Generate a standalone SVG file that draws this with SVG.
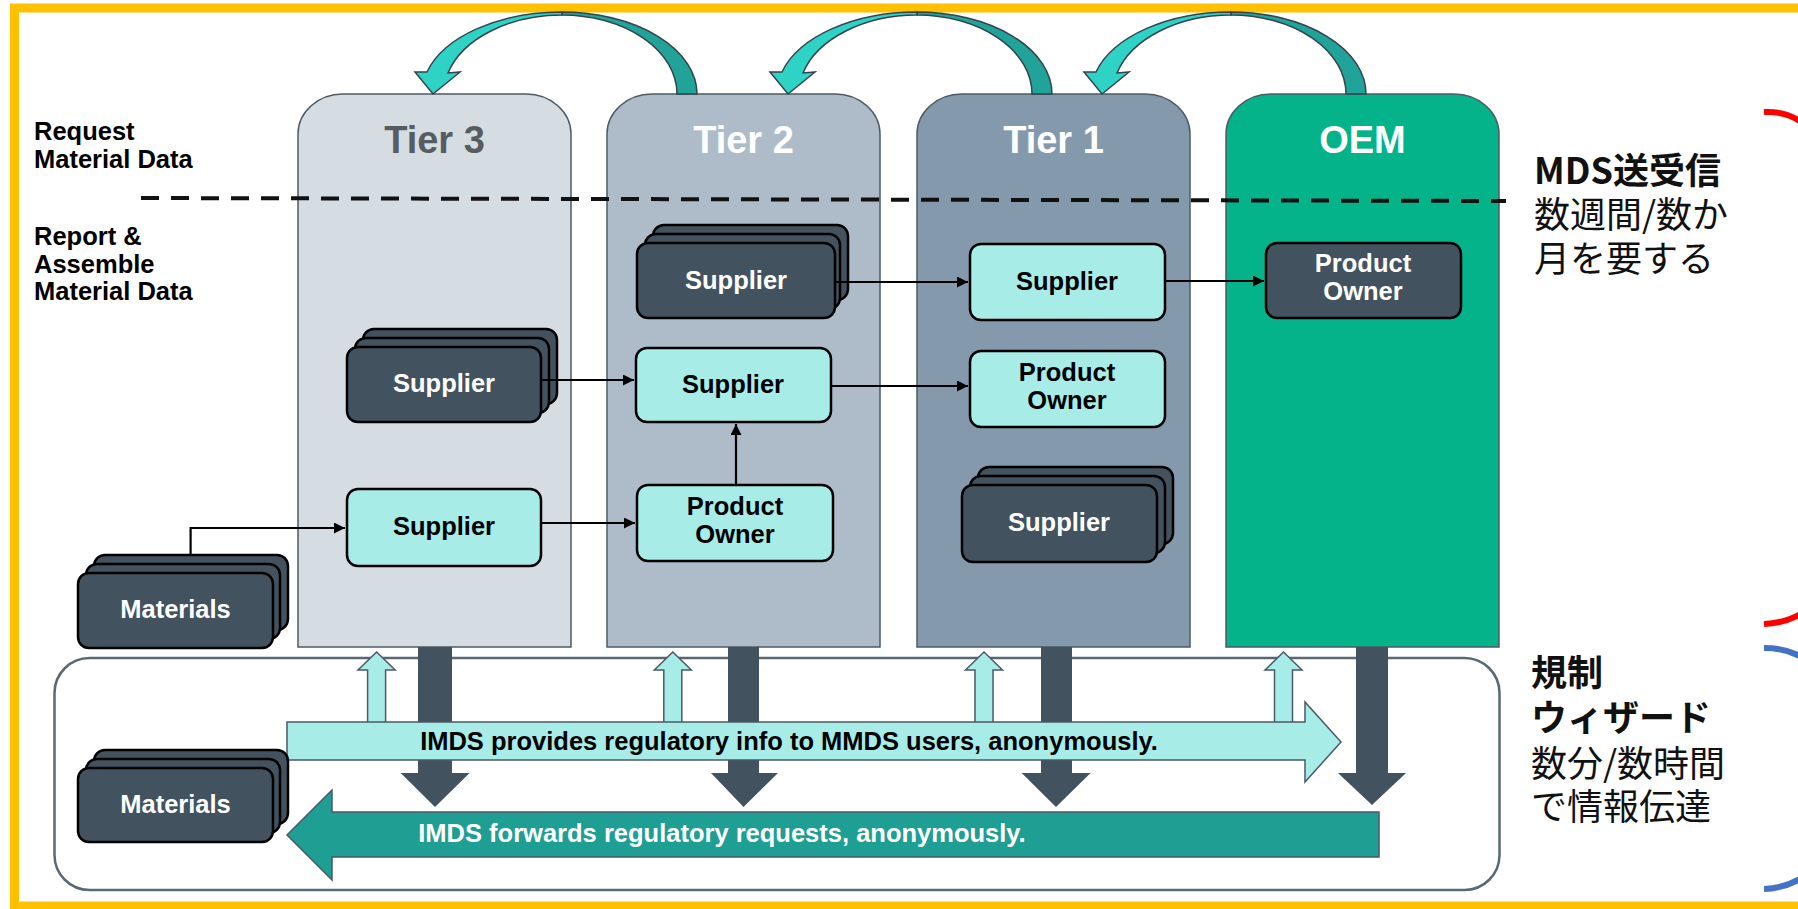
<svg xmlns="http://www.w3.org/2000/svg" width="1798" height="909" viewBox="0 0 1798 909">
<style>
.lbl{font-family:"Liberation Sans",Arial,sans-serif;font-weight:bold;font-size:25.5px;fill:#000}
.ttl{font-family:"Liberation Sans",Arial,sans-serif;font-weight:bold;font-size:38px;text-anchor:middle;fill:#fff}
.nt{font-family:"Liberation Sans",Arial,sans-serif;font-weight:bold;font-size:25.5px;text-anchor:middle}
.nd{fill:#42525f;stroke:#000;stroke-width:2.5}
.nl{fill:#a8ece8;stroke:#000;stroke-width:2.5}
.wt{fill:#fff}
.bt{fill:#000}
.col{stroke:#4d5b66;stroke-width:1.5}
.con{fill:none;stroke:#000;stroke-width:2.2}
.cjk{font-family:"Noto Sans CJK JP","Noto Sans",sans-serif;font-size:36px;fill:#111}
.down{fill:#42525f}
.up{fill:#a8ece8;stroke:#4a5a66;stroke-width:1.5}
.cd{fill:#22a39a;stroke:#33444f;stroke-width:1.5}
.cl{fill:#2ed3c6;stroke:#33444f;stroke-width:1.5}
</style>
<defs>
<marker id="ah" viewBox="0 0 10 10" refX="10" refY="5" markerWidth="5" markerHeight="5" orient="auto" markerUnits="strokeWidth">
<path d="M0 0 L10 5 L0 10 Z" fill="#000"/>
</marker>
<g id="curv">
<path class="cd" d="M0 94 A135 82 0 0 0 -135 12 L-135 15 A115 79 0 0 1 -20 94 Z"/>
<path class="cl" d="M-135 12 A140 82 0 0 0 -270 72 L-282 72 L-264 94 L-237 72 L-249 73 A118.6 79 0 0 1 -135 15 Z"/>
</g>
</defs>
<rect width="1798" height="909" fill="#fff"/>
<rect x="14.5" y="8" width="1800" height="898" fill="none" stroke="#ffc000" stroke-width="9"/>

<g id="labels">
<text class="lbl" x="34" y="140">Request</text>
<text class="lbl" x="34" y="168">Material Data</text>
<text class="lbl" x="34" y="245">Report &amp;</text>
<text class="lbl" x="34" y="273">Assemble</text>
<text class="lbl" x="34" y="300">Material Data</text>
</g>

<g id="tier3">
<path class="col" fill="#d5dde3" d="M298 647 V134 A45 40 0 0 1 343 94 H526 A45 40 0 0 1 571 134 V647 Z"/>
<text class="ttl" x="434.5" y="153" style="fill:#575c60">Tier 3</text>
</g>
<g id="tier2">
<path class="col" fill="#adbcc8" d="M607 647 V134 A45 40 0 0 1 652 94 H835 A45 40 0 0 1 880 134 V647 Z"/>
<text class="ttl" x="743.5" y="153">Tier 2</text>
</g>
<g id="tier1">
<path class="col" fill="#8599ac" d="M917 647 V134 A45 40 0 0 1 962 94 H1145 A45 40 0 0 1 1190 134 V647 Z"/>
<text class="ttl" x="1053.5" y="153">Tier 1</text>
</g>
<g id="oem">
<path class="col" fill="#04b38a" d="M1226 647 V134 A45 40 0 0 1 1271 94 H1454 A45 40 0 0 1 1499 134 V647 Z"/>
<text class="ttl" x="1362.5" y="153">OEM</text>
</g>

<g id="curved-arrows">
<use href="#curv" transform="translate(697,0)"/>
<use href="#curv" transform="translate(1052,0)"/>
<use href="#curv" transform="translate(1366,0)"/>
</g>

<line x1="141" y1="198" x2="1506" y2="201" stroke="#111" stroke-width="4" stroke-dasharray="18 12"/>

<g id="t2-supplier-stack">
<rect class="nd" x="653" y="225" width="195" height="75" rx="11"/>
<rect class="nd" x="645" y="234" width="195" height="75" rx="11"/>
<rect class="nd" x="637" y="243" width="198" height="75" rx="11"/>
<text class="nt wt" x="736" y="289">Supplier</text>
</g>
<g id="t1-supplier">
<rect class="nl" x="970" y="244" width="195" height="76" rx="11"/>
<text class="nt bt" x="1067" y="290">Supplier</text>
</g>
<g id="oem-product-owner">
<rect class="nd" x="1266" y="243" width="195" height="75" rx="11"/>
<text class="nt wt" x="1363" y="272">Product</text>
<text class="nt wt" x="1363" y="300">Owner</text>
</g>
<g id="t3-supplier-stack">
<rect class="nd" x="363" y="329" width="194" height="75" rx="11"/>
<rect class="nd" x="355" y="338" width="194" height="75" rx="11"/>
<rect class="nd" x="347" y="347" width="194" height="75" rx="11"/>
<text class="nt wt" x="444" y="392">Supplier</text>
</g>
<g id="t2-supplier">
<rect class="nl" x="636" y="348" width="195" height="74" rx="11"/>
<text class="nt bt" x="733" y="393">Supplier</text>
</g>
<g id="t1-product-owner">
<rect class="nl" x="970" y="351" width="195" height="76" rx="11"/>
<text class="nt bt" x="1067" y="381">Product</text>
<text class="nt bt" x="1067" y="409">Owner</text>
</g>
<g id="t3-supplier">
<rect class="nl" x="347" y="489" width="194" height="77" rx="11"/>
<text class="nt bt" x="444" y="535">Supplier</text>
</g>
<g id="t2-product-owner">
<rect class="nl" x="637" y="485" width="196" height="76" rx="11"/>
<text class="nt bt" x="735" y="515">Product</text>
<text class="nt bt" x="735" y="543">Owner</text>
</g>
<g id="t1-supplier-stack">
<rect class="nd" x="978" y="467" width="195" height="77" rx="11"/>
<rect class="nd" x="970" y="476" width="195" height="77" rx="11"/>
<rect class="nd" x="962" y="485" width="195" height="77" rx="11"/>
<text class="nt wt" x="1059" y="531">Supplier</text>
</g>
<g id="materials-1">
<rect class="nd" x="94" y="555" width="194" height="75" rx="11"/>
<rect class="nd" x="86" y="564" width="194" height="75" rx="11"/>
<rect class="nd" x="78" y="573" width="195" height="75" rx="11"/>
<text class="nt wt" x="175.5" y="618">Materials</text>
</g>

<g id="connectors">
<path class="con" marker-end="url(#ah)" d="M836 282 L968 282"/>
<path class="con" marker-end="url(#ah)" d="M1165 281 L1264 281"/>
<path class="con" marker-end="url(#ah)" d="M542 380 L634 380"/>
<path class="con" marker-end="url(#ah)" d="M831 386 L968 386"/>
<path class="con" marker-end="url(#ah)" d="M736 485 L736 424"/>
<path class="con" marker-end="url(#ah)" d="M542 523 L635 523"/>
<path class="con" marker-end="url(#ah)" d="M190.6 555 L190.6 528 L345 528"/>
</g>

<g id="imds">
<rect x="54.5" y="658" width="1445" height="232" rx="35" fill="#fff" stroke="#5a6872" stroke-width="2.5"/>
<path class="down" d="M418 647 H452 V773 H469.6 L435 807 L400.7 773 H418 Z"/>
<path class="down" d="M728 647 H759 V773 H778 L743.5 807 L711 773 H728 Z"/>
<path class="down" d="M1041 647 H1072 V773 H1090.6 L1056 807 L1021.7 773 H1041 Z"/>
<path class="down" d="M1356 647 H1388 V773 H1406 L1372 805 L1338 773 H1356 Z"/>
<path class="up" d="M367.6 724 V670 H358 L376.6 652 L395.2 670 H385.6 V724 Z"/>
<path class="up" d="M663.8 724 V670 H654.3 L672.8 652 L691.3 670 H681.8 V724 Z"/>
<path class="up" d="M975 724 V670 H965.5 L984 652 L1002.5 670 H993 V724 Z"/>
<path class="up" d="M1274.5 724 V670 H1265 L1283.5 652 L1302 670 H1292.5 V724 Z"/>
<path d="M287 722 H1305 V702 L1341 742 L1305 782 V760 H287 Z" fill="#a8ece8" stroke="#4a5a66" stroke-width="1.5"/>
<text class="nt bt" x="789" y="750">IMDS provides regulatory info to MMDS users, anonymously.</text>
<path d="M1379 812 H332 V790 L287 835 L332 880 V857 H1379 Z" fill="#1f9e94" stroke="#4a5a66" stroke-width="1.5"/>
<text class="nt wt" x="722" y="842">IMDS forwards regulatory requests, anonymously.</text>
</g>
<g id="materials-2">
<rect class="nd" x="94" y="750" width="194" height="74" rx="11"/>
<rect class="nd" x="86" y="759" width="194" height="74" rx="11"/>
<rect class="nd" x="78" y="768" width="195" height="74" rx="11"/>
<text class="nt wt" x="175.5" y="813">Materials</text>
</g>

<g id="notes">
<text class="cjk" x="1534" y="184" font-weight="bold">MDS送受信</text>
<text class="cjk" x="1534" y="228">数週間/数か</text>
<text class="cjk" x="1534" y="272">月を要する</text>
<text class="cjk" x="1531" y="686" font-weight="bold">規制</text>
<text class="cjk" x="1531" y="731" font-weight="bold">ウィザード</text>
<text class="cjk" x="1531" y="777">数分/数時間</text>
<text class="cjk" x="1531" y="820">で情報伝達</text>
</g>
<g id="brackets" fill="none" stroke-width="6">
<path stroke="#ff0000" d="M1764 112 C1785 111 1800 118 1812 132 V605 C1800 617 1785 623 1764 624"/>
<path stroke="#4472c4" d="M1764 648 C1785 648 1800 654 1812 664 V870 C1800 881 1785 888 1764 889"/>
</g>
</svg>
